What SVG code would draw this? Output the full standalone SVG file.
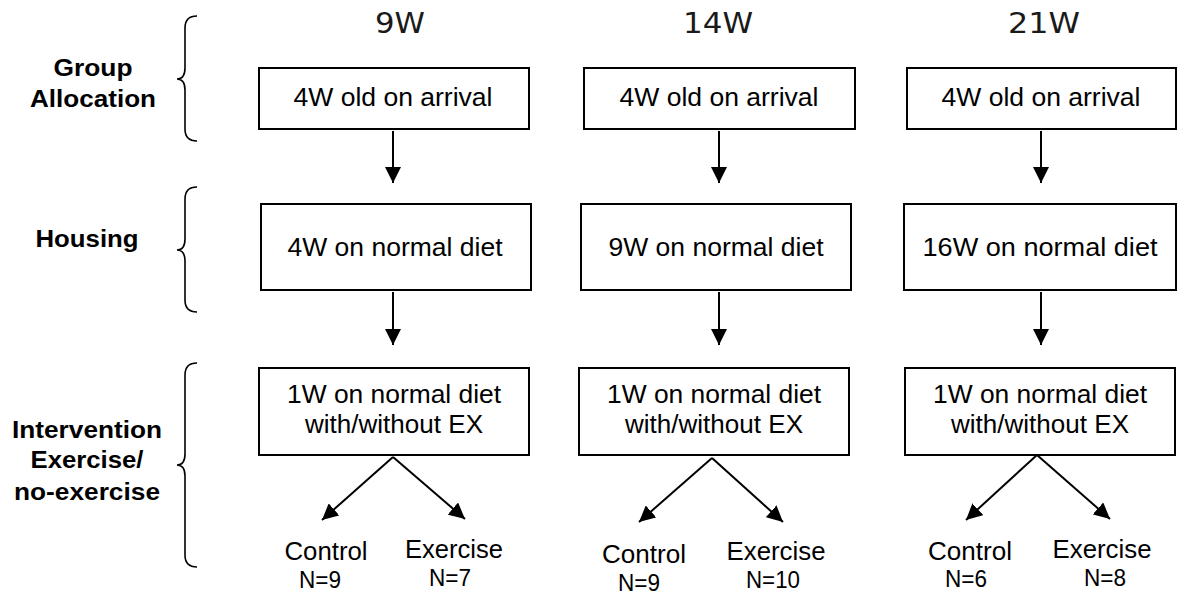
<svg xmlns="http://www.w3.org/2000/svg" width="1178" height="595" viewBox="0 0 1178 595">
<style>
.box{fill:#fff;stroke:#000;stroke-width:2}
.bt{font-family:"Liberation Sans",Arial,sans-serif;font-size:26px;fill:#000;text-anchor:middle}
.hd{font-family:"DejaVu Sans","Liberation Sans",sans-serif;font-size:28px;fill:#1a1a1a;text-anchor:middle}
.lb{font-family:"Liberation Sans",Arial,sans-serif;font-size:23.5px;font-weight:bold;fill:#000;text-anchor:middle}
.sm{font-family:"Liberation Sans",Arial,sans-serif;font-size:25px;fill:#000;text-anchor:middle}
.sn{font-family:"Liberation Sans",Arial,sans-serif;font-size:23px;fill:#000;text-anchor:middle}
.cn{stroke:#000;stroke-width:2;fill:none;marker-end:url(#ah)}
.br{stroke:#000;stroke-width:1.6;fill:none}
</style>
<defs>
<marker id="ah" viewBox="0 0 10 10" refX="10" refY="5" markerWidth="8" markerHeight="8" markerUnits="strokeWidth" orient="auto">
<path d="M0,0 L10,5 L0,10 z" fill="#000"/>
</marker>
</defs>
<rect width="1178" height="595" fill="#fff"/>
<g id="headers">
<text class="hd" x="400" y="33" textLength="50" lengthAdjust="spacingAndGlyphs">9W</text>
<text class="hd" x="718" y="33" textLength="70" lengthAdjust="spacingAndGlyphs">14W</text>
<text class="hd" x="1044" y="33" textLength="72" lengthAdjust="spacingAndGlyphs">21W</text>
</g>
<g id="stage-labels">
<text class="lb" x="93" y="76" textLength="79" lengthAdjust="spacingAndGlyphs">Group</text>
<text class="lb" x="93" y="107" textLength="126" lengthAdjust="spacingAndGlyphs">Allocation</text>
<text class="lb" x="87" y="247" textLength="103" lengthAdjust="spacingAndGlyphs">Housing</text>
<text class="lb" x="87" y="438" textLength="150" lengthAdjust="spacingAndGlyphs">Intervention</text>
<text class="lb" x="87" y="468" textLength="113" lengthAdjust="spacingAndGlyphs">Exercise/</text>
<text class="lb" x="87" y="500" textLength="146" lengthAdjust="spacingAndGlyphs">no-exercise</text>
</g>
<g id="braces">
<path class="br" d="M197,16 Q185,16 185,28 L185,68 Q185,79 177,79 Q185,79 185,90 L185,129 Q185,141 197,141"/>
<path class="br" d="M197,187 Q185,187 185,199 L185,239 Q185,250 177,250 Q185,250 185,261 L185,300 Q185,312 197,312"/>
<path class="br" d="M197,363 Q185,363 185,375 L185,454 Q185,465 177,465 Q185,465 185,476 L185,555 Q185,567 197,567"/>
</g>
<g id="n-arrival-9w">
<rect class="box" x="259" y="68" width="270" height="61"/>
<text class="bt" x="393" y="106" textLength="199" lengthAdjust="spacingAndGlyphs">4W old on arrival</text>
</g>
<g id="n-arrival-14w">
<rect class="box" x="584" y="68" width="271" height="61"/>
<text class="bt" x="719" y="106" textLength="199" lengthAdjust="spacingAndGlyphs">4W old on arrival</text>
</g>
<g id="n-arrival-21w">
<rect class="box" x="907" y="68" width="269" height="61"/>
<text class="bt" x="1041" y="106" textLength="199" lengthAdjust="spacingAndGlyphs">4W old on arrival</text>
</g>
<g id="n-housing-9w">
<rect class="box" x="261" y="204" width="270" height="86"/>
<text class="bt" x="395" y="256" textLength="215" lengthAdjust="spacingAndGlyphs">4W on normal diet</text>
</g>
<g id="n-housing-14w">
<rect class="box" x="581" y="204" width="270" height="86"/>
<text class="bt" x="716" y="256" textLength="215" lengthAdjust="spacingAndGlyphs">9W on normal diet</text>
</g>
<g id="n-housing-21w">
<rect class="box" x="904" y="204" width="272" height="86"/>
<text class="bt" x="1040" y="256" textLength="235" lengthAdjust="spacingAndGlyphs">16W on normal diet</text>
</g>
<g id="n-interv-9w">
<rect class="box" x="259" y="368" width="270" height="87"/>
<text class="bt" x="394" y="403" textLength="214" lengthAdjust="spacingAndGlyphs">1W on normal diet</text>
<text class="bt" x="394" y="433" textLength="178" lengthAdjust="spacingAndGlyphs">with/without EX</text>
</g>
<g id="n-interv-14w">
<rect class="box" x="579" y="368" width="270" height="87"/>
<text class="bt" x="714" y="403" textLength="214" lengthAdjust="spacingAndGlyphs">1W on normal diet</text>
<text class="bt" x="714" y="433" textLength="178" lengthAdjust="spacingAndGlyphs">with/without EX</text>
</g>
<g id="n-interv-21w">
<rect class="box" x="905" y="368" width="270" height="87"/>
<text class="bt" x="1040" y="403" textLength="214" lengthAdjust="spacingAndGlyphs">1W on normal diet</text>
<text class="bt" x="1040" y="433" textLength="178" lengthAdjust="spacingAndGlyphs">with/without EX</text>
</g>
<g id="n-outcomes-9w">
<text class="sm" x="326" y="560" textLength="83" lengthAdjust="spacingAndGlyphs">Control</text>
<text class="sn" x="320" y="588" textLength="42" lengthAdjust="spacingAndGlyphs">N=9</text>
<text class="sm" x="454" y="558" textLength="98" lengthAdjust="spacingAndGlyphs">Exercise</text>
<text class="sn" x="450" y="586" textLength="42" lengthAdjust="spacingAndGlyphs">N=7</text>
</g>
<g id="n-outcomes-14w">
<text class="sm" x="644" y="563" textLength="84" lengthAdjust="spacingAndGlyphs">Control</text>
<text class="sn" x="639" y="591" textLength="42" lengthAdjust="spacingAndGlyphs">N=9</text>
<text class="sm" x="776" y="560" textLength="99" lengthAdjust="spacingAndGlyphs">Exercise</text>
<text class="sn" x="773" y="588" textLength="54" lengthAdjust="spacingAndGlyphs">N=10</text>
</g>
<g id="n-outcomes-21w">
<text class="sm" x="970" y="560" textLength="84" lengthAdjust="spacingAndGlyphs">Control</text>
<text class="sn" x="966" y="587" textLength="42" lengthAdjust="spacingAndGlyphs">N=6</text>
<text class="sm" x="1102" y="558" textLength="99" lengthAdjust="spacingAndGlyphs">Exercise</text>
<text class="sn" x="1105" y="586" textLength="42" lengthAdjust="spacingAndGlyphs">N=8</text>
</g>
<g id="connectors">
<line class="cn" x1="393" y1="131" x2="393" y2="183"/>
<line class="cn" x1="719" y1="131" x2="719" y2="183"/>
<line class="cn" x1="1041" y1="131" x2="1041" y2="183"/>
<line class="cn" x1="393" y1="292" x2="393" y2="345"/>
<line class="cn" x1="719" y1="292" x2="719" y2="345"/>
<line class="cn" x1="1041" y1="292" x2="1041" y2="345"/>
<line class="cn" x1="393" y1="457" x2="322" y2="520"/>
<line class="cn" x1="393" y1="457" x2="465" y2="519"/>
<line class="cn" x1="712" y1="458" x2="639" y2="522"/>
<line class="cn" x1="712" y1="458" x2="783" y2="522"/>
<line class="cn" x1="1037" y1="455" x2="966" y2="520"/>
<line class="cn" x1="1037" y1="455" x2="1110" y2="519"/>
</g>
</svg>
